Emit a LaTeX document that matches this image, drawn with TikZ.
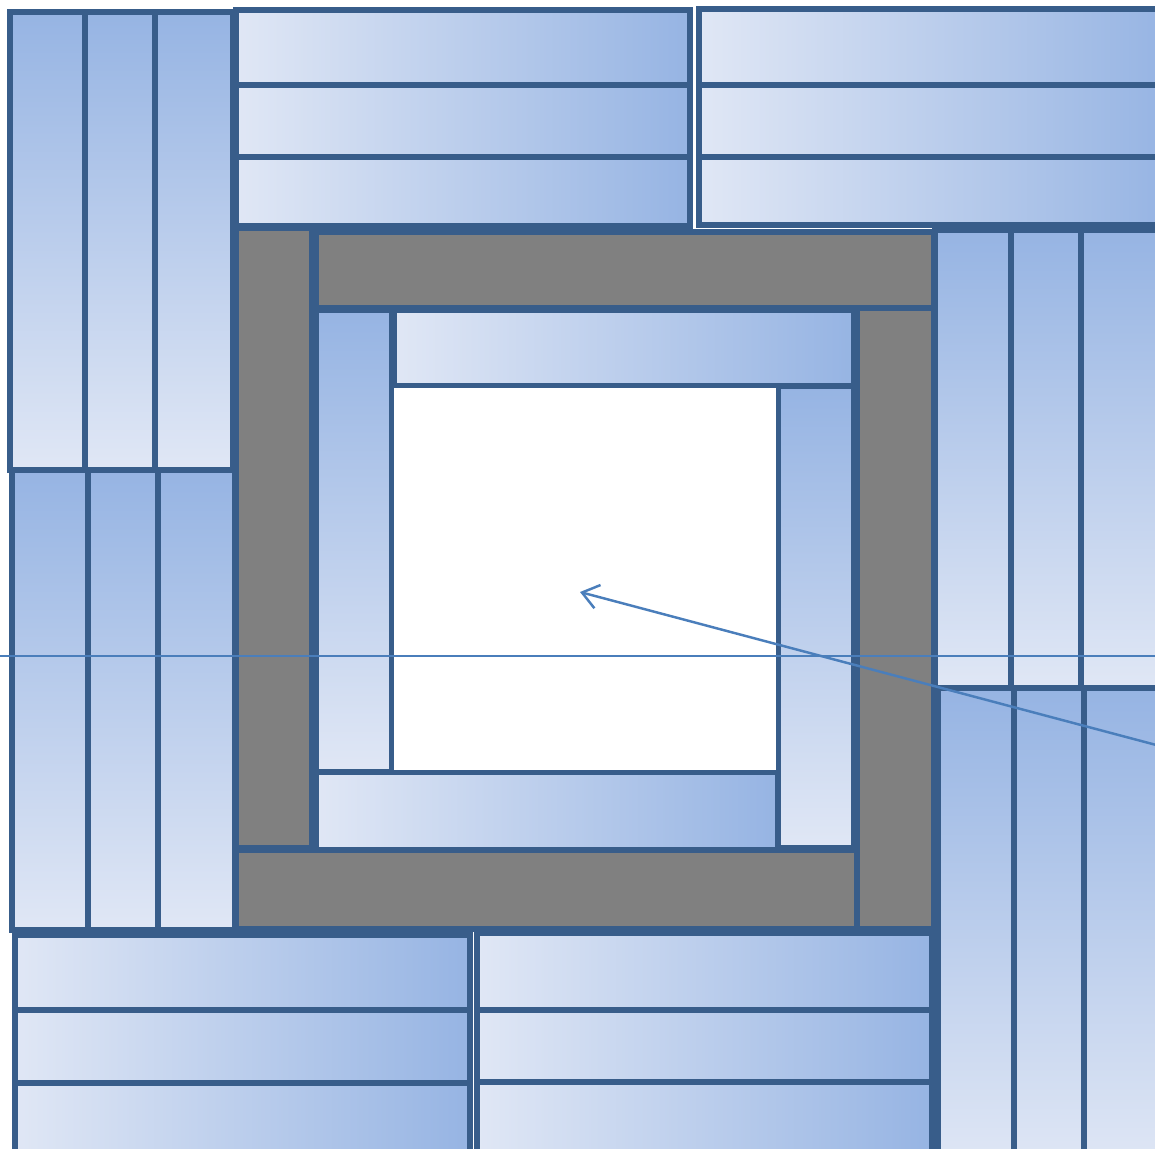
\documentclass[tikz,border=0pt]{standalone}
\usepackage{tikz}
\usepackage{xcolor}
\usetikzlibrary{arrows.meta}
\definecolor{stripEdge}{RGB}{56,93,138}
\definecolor{stripLight}{RGB}{224,231,245}
\definecolor{stripDark}{RGB}{150,180,227}
\definecolor{frameGray}{RGB}{128,128,128}
\definecolor{pointerBlue}{RGB}{74,126,187}

\begin{document}
\begin{tikzpicture}[x=0.01cm,y=-0.01cm,
  vstrip/.style={draw=stripEdge,line width=1.45pt,top color=stripDark,bottom color=stripLight},
  hstrip/.style={draw=stripEdge,line width=1.45pt,left color=stripLight,right color=stripDark},
  grayblock/.style={draw=stripEdge,line width=1.45pt,fill=frameGray},
  pointer/.style={draw=pointerBlue,line width=0.7pt}]
\path[use as bounding box] (0,0) rectangle (1155,1149);
\clip (0,0) rectangle (1155,1149);

% Gauche - bandes verticales
\foreach \xa/\xb in {10/85,85/155,155/233}
  \draw[vstrip] (\xa,12) rectangle (\xb,470);
\foreach \xa/\xb in {12/88,88/158,158/235}
  \draw[vstrip] (\xa,470) rectangle (\xb,930);

% Haut - bandes horizontales
\foreach \ya/\yb in {10/85,85/157,157/226}
  \draw[hstrip] (236,\ya) rectangle (690,\yb);
\foreach \ya/\yb in {9/85,85/157,157/225}
  \draw[hstrip] (699,\ya) rectangle (1170,\yb);

% Droite - bandes verticales
\foreach \xa/\xb in {935/1011,1011/1081,1081/1170}
  \draw[vstrip] (\xa,230) rectangle (\xb,688);
\foreach \xa/\xb in {938/1014,1014/1084,1084/1170}
  \draw[vstrip] (\xa,688) rectangle (\xb,1170);

% Bas - bandes horizontales
\foreach \ya/\yb in {935/1010,1010/1083,1083/1170}
  \draw[hstrip] (15,\ya) rectangle (470,\yb);
\foreach \ya/\yb in {933/1010,1010/1082,1082/1170}
  \draw[hstrip] (477,\ya) rectangle (932,\yb);

% Cadre gris
\draw[grayblock] (236,228) rectangle (312,848);
\draw[grayblock] (316,232) rectangle (934,308);
\draw[grayblock] (857,308) rectangle (934,929);
\draw[grayblock] (236,850) rectangle (857,929);

% Cadre interieur
\draw[vstrip] (316,310) rectangle (392,772);
\draw[hstrip] (394,310) rectangle (854,386);
\draw[vstrip] (778,386) rectangle (854,848);
\draw[hstrip] (316,772) rectangle (778,850);
\fill[white] (394,388) rectangle (776,770);

% Axe et fleche
\coordinate (axisLeft) at (0,656);
\coordinate (axisRight) at (1155,656);
\draw[pointer,line width=0.45pt] (axisLeft) -- (axisRight);
\coordinate (pointerTail) at (1160,746);
\coordinate (pointerHead) at (580,592);
\draw[pointer,-{Straight Barb[length=1.6mm,width=2.4mm,line width=0.7pt]}] (pointerTail) -- (pointerHead);
\end{tikzpicture}
\end{document}
